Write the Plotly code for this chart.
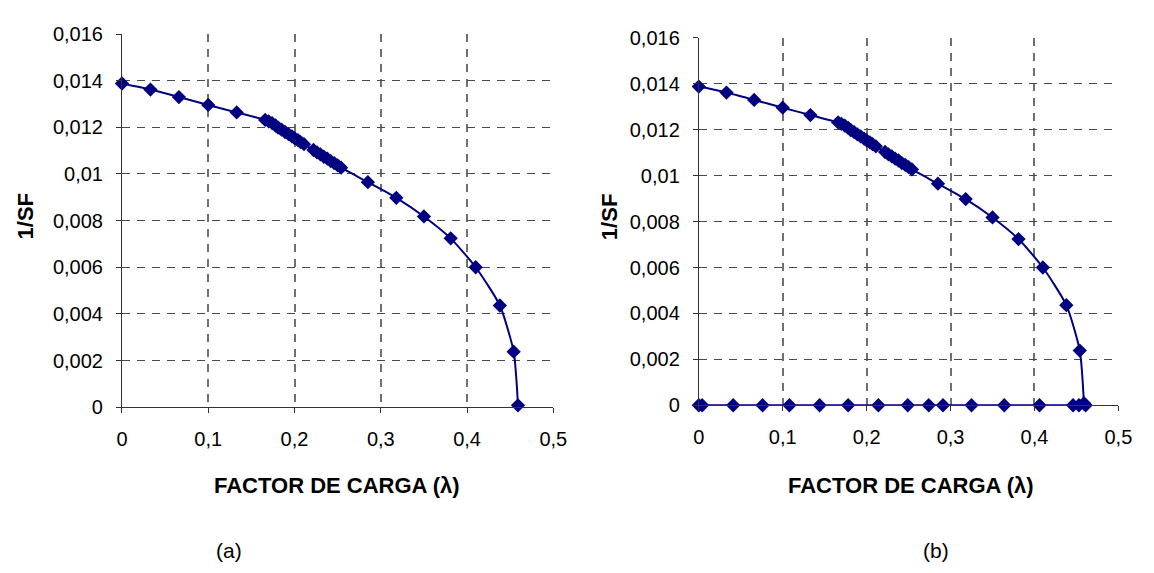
import plotly.graph_objects as go

# Load factor (lambda) vs 1/SF, upper branch of the curve (both panels)
lam_upper = [0.000, 0.033, 0.066, 0.100, 0.133, 0.166, 0.170, 0.174, 0.178,
             0.181, 0.185, 0.189, 0.193, 0.197, 0.200, 0.204, 0.207, 0.211,
             0.222, 0.226, 0.230, 0.234, 0.238, 0.242, 0.246, 0.250, 0.254,
             0.285, 0.318, 0.350, 0.381, 0.410, 0.438, 0.454, 0.459]
inv_sf_upper = [0.01388, 0.01362, 0.01330, 0.01296, 0.01264, 0.01232, 0.01226,
                0.01218, 0.01208, 0.01199, 0.01190, 0.01180, 0.01171, 0.01161,
                0.01154, 0.01145, 0.01137, 0.01128, 0.01103, 0.01093, 0.01084,
                0.01074, 0.01066, 0.01055, 0.01047, 0.01037, 0.01027, 0.00965,
                0.00898, 0.00818, 0.00724, 0.00600, 0.00436, 0.00238, 0.00008]

# Lower branch returning along 1/SF = 0 (panel b only)
lam_lower = [0.461, 0.453, 0.446, 0.406, 0.364, 0.325, 0.291, 0.274, 0.249,
             0.214, 0.178, 0.144, 0.108, 0.076, 0.041, 0.004, 0.000]
inv_sf_lower = [0.0] * len(lam_lower)

x_tick_vals = [0.0, 0.1, 0.2, 0.3, 0.4, 0.5]
x_tick_text = ["0", "0,1", "0,2", "0,3", "0,4", "0,5"]
y_tick_vals = [0.0, 0.002, 0.004, 0.006, 0.008, 0.010, 0.012, 0.014, 0.016]
y_tick_text = ["0", "0,002", "0,004", "0,006", "0,008", "0,01", "0,012",
               "0,014", "0,016"]

x_title = "FACTOR DE CARGA (λ)"
y_title = "1/SF"
panel_labels = ["(a)", "(b)"]

NAVY = "#000080"
FONT = "Liberation Sans, Arial, sans-serif"
W, H = 1154, 573

# plot areas in pixels: (left, right, top, bottom)
areas = [(118, 557, 24, 412), (705, 1132, 28, 410)]

fig = go.Figure()

line_style = dict(color=NAVY, width=2)
marker_style = dict(symbol="diamond", size=11, color=NAVY)

fig.add_trace(go.Scatter(x=lam_upper, y=inv_sf_upper, mode="lines+markers",
                         line=dict(shape="spline", smoothing=0.6, **line_style),
                         marker=marker_style, cliponaxis=False,
                         xaxis="x", yaxis="y", showlegend=False))
fig.add_trace(go.Scatter(x=lam_upper, y=inv_sf_upper, mode="lines+markers",
                         line=dict(shape="spline", smoothing=0.6, **line_style),
                         marker=marker_style, cliponaxis=False,
                         xaxis="x2", yaxis="y2", showlegend=False))
fig.add_trace(go.Scatter(x=[lam_upper[-1]] + lam_lower,
                         y=[inv_sf_upper[-1]] + inv_sf_lower,
                         mode="lines+markers", line=line_style,
                         marker=marker_style, cliponaxis=False,
                         xaxis="x2", yaxis="y2", showlegend=False))

tick_font = dict(family=FONT, size=20, color="#000")


def xaxis_cfg(dom, anchor):
    return dict(domain=dom, anchor=anchor, range=[0, 0.5],
                tickmode="array", tickvals=x_tick_vals, ticktext=x_tick_text,
                ticks="outside", ticklen=5, tickcolor="#333", tickwidth=1,
                ticklabelstandoff=9,
                showline=True, linecolor="#333", linewidth=1,
                showgrid=True, gridcolor="#707070", gridwidth=1.5,
                griddash="8px,7px", zeroline=False,
                tickfont=tick_font, fixedrange=True)


def yaxis_cfg(dom, anchor):
    return dict(domain=dom, anchor=anchor, range=[0, 0.016],
                tickmode="array", tickvals=y_tick_vals, ticktext=y_tick_text,
                ticks="outside", ticklen=5, tickcolor="#333", tickwidth=1,
                ticklabelstandoff=9,
                showline=True, linecolor="#333", linewidth=1,
                showgrid=True, gridcolor="#4a4a4a", gridwidth=1,
                griddash="8px,7px", zeroline=False,
                tickfont=tick_font, fixedrange=True)


layout_axes = {}
for i, (l, r, t, b) in enumerate(areas):
    sx = "" if i == 0 else str(i + 1)
    xd = [l / W, r / W]
    yd = [(H - b) / H, (H - t) / H]
    layout_axes["xaxis" + sx] = xaxis_cfg(xd, "y" + sx)
    layout_axes["yaxis" + sx] = yaxis_cfg(yd, "x" + sx)
    # inner half of the cross-style tick marks
    n = 3 + 2 * i
    layout_axes["xaxis" + str(n)] = dict(
        overlaying="x" + sx, anchor="y" + sx, range=[0, 0.5],
        tickmode="array", tickvals=x_tick_vals, ticks="inside", ticklen=5,
        tickcolor="#333", showticklabels=False, showgrid=False,
        zeroline=False, showline=False, fixedrange=True)
    layout_axes["yaxis" + str(n + 1)] = dict(
        overlaying="y" + sx, anchor="x" + sx, range=[0, 0.016],
        tickmode="array", tickvals=y_tick_vals, ticks="inside", ticklen=5,
        tickcolor="#333", showticklabels=False, showgrid=False,
        zeroline=False, showline=False, fixedrange=True)

annotations = []
title_font = dict(family=FONT, size=22, color="#000")
label_font = dict(family=FONT, size=21, color="#000")
x_title_pos = [337, 921]
y_title_pos = [20, 614]
panel_pos = [227, 946]
for i in range(2):
    annotations.append(dict(text="<b>%s</b>" % x_title, x=x_title_pos[i] / W,
                            y=(H - 493) / H, xref="paper", yref="paper",
                            showarrow=False, font=title_font,
                            xanchor="center", yanchor="middle"))
    annotations.append(dict(text="<b>%s</b>" % y_title, x=y_title_pos[i] / W,
                            y=(H - 214) / H, xref="paper", yref="paper",
                            showarrow=False, font=title_font, textangle=-90,
                            xanchor="center", yanchor="middle"))
    annotations.append(dict(text=panel_labels[i], x=panel_pos[i] / W,
                            y=(H - 561) / H, xref="paper", yref="paper",
                            showarrow=False, font=label_font,
                            xanchor="center", yanchor="middle"))

fig.update_layout(
    width=W, height=H,
    margin=dict(l=0, r=0, t=0, b=0),
    paper_bgcolor="white", plot_bgcolor="white",
    annotations=annotations,
    **layout_axes,
)

fig.write_html("out.html", config={"displayModeBar": False})
